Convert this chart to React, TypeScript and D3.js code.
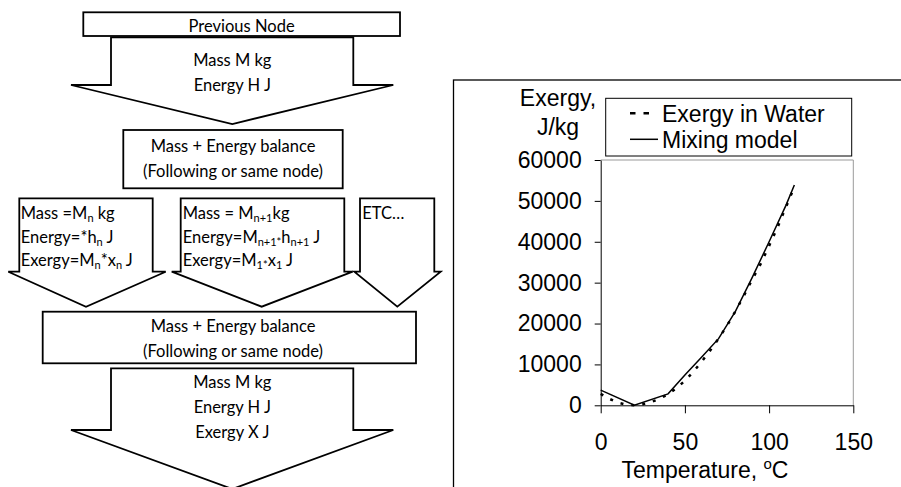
import * as d3 from "d3";
import { useEffect, useRef } from "react";

// chart data
const waterTemps = [0, 5, 10, 15, 20, 25, 30, 35, 40, 45, 50, 55, 60, 65, 70, 75, 80, 85, 90, 95, 100, 105, 110, 115];
const exergyWater = [2800, 1600, 700, 180, 0, 250, 800, 1600, 2700, 4200, 6000, 8200, 10700, 13400, 16300, 19500, 23000, 26800, 30800, 34600, 39000, 43500, 48500, 53400];
const mixingTemps = [0, 20, 40, 50, 60, 70, 80, 90, 100, 110, 115];
const mixingModel = [3700, 0, 2800, 7400, 11800, 16300, 23000, 31300, 40000, 48900, 53900];
const xTicks = [0, 50, 100, 150];
const yTicks = [0, 10000, 20000, 30000, 40000, 50000, 60000];
const legendLabels = ["Exergy in Water", "Mixing model"];

// flowchart texts
const topArrowLines = ["Mass M kg", "Energy H J"];
const balanceLines = ["Mass + Energy balance", "(Following or same node)"];
const bottomArrowLines = ["Mass M kg", "Energy H J", "Exergy X J"];
// [text, isSubscript]
const branchA: [string, boolean][][] = [
  [["Mass =M", false], ["n", true], [" kg", false]],
  [["Energy=*h", false], ["n", true], [" J", false]],
  [["Exergy=M", false], ["n", true], ["*x", false], ["n", true], [" J", false]],
];
const branchB: [string, boolean][][] = [
  [["Mass = M", false], ["n+1", true], ["kg", false]],
  [["Energy=M", false], ["n+1", true], ["*", true], ["h", false], ["n+1", true], [" J", false]],
  [["Exergy=M", false], ["1", true], ["*", true], ["x", false], ["1", true], [" J", false]],
];
const branchC: [string, boolean][][] = [[["ETC…", false]]];

const flowFont = "Lato, 'Open Sans', sans-serif";
const chartFont = "'Liberation Sans', Arial, sans-serif";
const flowSize = 16.5;

function arrowPath(sl: number, sr: number, top: number, sh: number, hl: number, hr: number, tx: number, ty: number) {
  return `M${sl},${top}H${sr}V${sh}H${hr}L${tx},${ty}L${hl},${sh}H${sl}Z`;
}

function SubText(props: { x: number; y: number; parts: [string, boolean][] }) {
  let shifted = false;
  return (
    <text x={props.x} y={props.y} fontSize={flowSize} fontFamily={flowFont}>
      {props.parts.map((p, i) => {
        let dy = 0;
        if (p[1] && !shifted) { dy = 3; shifted = true; }
        else if (!p[1] && shifted) { dy = -3; shifted = false; }
        return (
          <tspan key={i} dy={dy} fontSize={p[1] ? 11 : flowSize}>{p[0]}</tspan>
        );
      })}
    </text>
  );
}

export default function App() {
  const chartRef = useRef<SVGGElement>(null);

  useEffect(() => {
    const g = d3.select(chartRef.current);
    g.selectAll("*").remove();

    const x = d3.scaleLinear().domain([0, 150]).range([600.7, 853.3]);
    const y = d3.scaleLinear().domain([0, 60000]).range([405.3, 160]);

    // plot area frame (top and right)
    g.append("path")
      .attr("d", `M${x(0)},${y(60000)}H${x(150)}V${y(0)}`)
      .attr("fill", "none")
      .attr("stroke", "#9a9a9a")
      .attr("stroke-width", 1);

    const yAxis = g.append("g")
      .attr("transform", "translate(" + x(0) + ",0)")
      .call(d3.axisLeft(y).tickValues(yTicks).tickSize(6).tickSizeOuter(0).tickPadding(13).tickFormat(d3.format("d")));
    const xAxis = g.append("g")
      .attr("transform", "translate(0," + y(0) + ")")
      .call(d3.axisBottom(x).tickValues(xTicks).tickSize(8).tickSizeOuter(0).tickPadding(20));
    [yAxis, xAxis].forEach(a => {
      a.attr("font-size", 23).attr("font-family", chartFont);
      a.selectAll("text").attr("fill", "#000");
      a.selectAll("line").attr("stroke", "#000");
      a.select(".domain").attr("stroke", "#000");
    });

    g.append("path")
      .attr("d", d3.line<number>().x((d, i) => x(waterTemps[i])).y(d => y(d))(exergyWater))
      .attr("fill", "none")
      .attr("stroke", "#000")
      .attr("stroke-width", 2.5)
      .attr("stroke-dasharray", "3,8");

    g.append("path")
      .attr("d", d3.line<number>().x((d, i) => x(mixingTemps[i])).y(d => y(d))(mixingModel))
      .attr("fill", "none")
      .attr("stroke", "#000")
      .attr("stroke-width", 1.5);

    // legend
    const lg = g.append("g");
    lg.append("rect")
      .attr("x", 605.7).attr("y", 98.3).attr("width", 246).attr("height", 57.7)
      .attr("fill", "#fff").attr("stroke", "#000").attr("stroke-width", 1);
    legendLabels.forEach((lab, i) => {
      const cy = 113.3 + i * 26;
      lg.append("line")
        .attr("x1", 630).attr("x2", i === 0 ? 649.5 : 658).attr("y1", cy).attr("y2", cy)
        .attr("stroke", "#000")
        .attr("stroke-width", i === 0 ? 2.5 : 1.5)
        .attr("stroke-dasharray", i === 0 ? "5.5,8" : null);
      lg.append("text")
        .attr("x", 662).attr("y", cy + 8.3)
        .attr("font-size", 23).attr("font-family", chartFont)
        .text(lab);
    });

    // axis titles
    g.append("text").attr("x", 558).attr("y", 106).attr("text-anchor", "middle")
      .attr("font-size", 23).attr("font-family", chartFont).text("Exergy,");
    g.append("text").attr("x", 558).attr("y", 135).attr("text-anchor", "middle")
      .attr("font-size", 23).attr("font-family", chartFont).text("J/kg");
    const xt = g.append("text").attr("x", 705).attr("y", 478).attr("text-anchor", "middle")
      .attr("font-size", 23).attr("font-family", chartFont);
    xt.append("tspan").text("Temperature, ");
    xt.append("tspan").attr("font-size", 15).attr("dy", -9).text("o");
    xt.append("tspan").attr("dy", 9).text("C");
  }, []);

  return (
    <svg width={901} height={487} style={{ position: "absolute", left: 0, top: 0, background: "#fff" }}>
      <rect x={0} y={0} width={901} height={487} fill="#fff" />
      {/* chart panel border */}
      <rect x={453.5} y={80} width={500} height={500} fill="none" stroke="#000" strokeWidth={1.3} />

      <g fill="none" stroke="#000" strokeWidth={1.8}>
        <rect x={83.3} y={12.3} width={316.7} height={23.7} />
        <path d={arrowPath(111, 353.3, 37.3, 85, 71, 393.3, 232.3, 124)} />
        <rect x={123.3} y={130} width={219.4} height={58.3} />
        <path d={arrowPath(19.3, 152.7, 198.3, 271.7, 8.3, 165.7, 86, 306.7)} />
        <path d={arrowPath(180.7, 344.3, 198.3, 271.7, 171.7, 352.7, 261.7, 306.7)} />
        <path d={arrowPath(360, 434.3, 198.3, 271.7, 354.3, 440.7, 397.3, 306.7)} />
        <rect x={42.7} y={311.7} width={373.3} height={51.6} />
        <path d={arrowPath(111, 353.3, 368.3, 430, 71, 393.3, 232.3, 489)} />
      </g>

      <g fontFamily={flowFont} fontSize={flowSize} textAnchor="middle">
        <text x={241.6} y={31.7}>Previous Node</text>
        {topArrowLines.map((t, i) => <text key={"t" + i} x={232.3} y={65.7 + i * 25.3}>{t}</text>)}
        {balanceLines.map((t, i) => <text key={"b" + i} x={233} y={152.3 + i * 24.4}>{t}</text>)}
        {balanceLines.map((t, i) => <text key={"c" + i} x={233} y={331.7 + i * 25}>{t}</text>)}
        {bottomArrowLines.map((t, i) => <text key={"d" + i} x={232.3} y={388.3 + i * 25}>{t}</text>)}
      </g>
      {branchA.map((parts, i) => <SubText key={"A" + i} x={20.7} y={219.3 + i * 23.4} parts={parts} />)}
      {branchB.map((parts, i) => <SubText key={"B" + i} x={182.7} y={219.3 + i * 23.4} parts={parts} />)}
      {branchC.map((parts, i) => <SubText key={"C" + i} x={362.3} y={219.3 + i * 23.4} parts={parts} />)}

      <g ref={chartRef} />
    </svg>
  );
}
